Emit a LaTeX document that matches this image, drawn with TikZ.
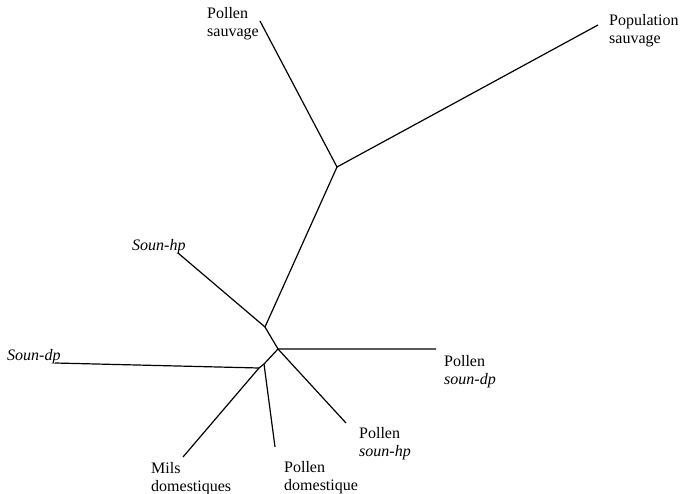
\documentclass[tikz,border=0pt]{standalone}
\usepackage{fontspec}
\setmainfont{Liberation Serif}
\begin{document}
\begin{tikzpicture}[x=1pt,y=-1pt,
  branch/.style={draw=black,line width=1.2pt,line join=round},
  lbl/.style={anchor=north west,inner sep=0pt,align=left,font=\fontsize{16}{18.5}\selectfont}]
\useasboundingbox[fill=white] (0,0) rectangle (681,494);
% tree junctions
\coordinate (P) at (337,167);
\coordinate (A) at (265,327);
\coordinate (B) at (278,349);
\coordinate (C) at (264,364);
\coordinate (D) at (259,368);
% branch ends
\coordinate (ePS) at (260,21);
\coordinate (ePop) at (598,25);
\coordinate (eSH) at (178,253);
\coordinate (eSD) at (55,363);
\coordinate (ePSD) at (436,349);
\coordinate (ePSH) at (346,423);
\coordinate (ePD) at (275,447);
\coordinate (eM) at (183,457);
% labels
\node[lbl] (lPS) at (207,7) {Pollen\\sauvage};
\node[lbl] (lPop) at (609,14) {Population\\sauvage};
\node[lbl] (lSH) at (132,239) {\itshape Soun-hp};
\node[lbl] (lSD) at (7,349) {\itshape Soun-dp};
\node[lbl] (lPSD) at (444,355) {Pollen\\\itshape soun-dp};
\node[lbl] (lPSH) at (359,427) {Pollen\\\itshape soun-hp};
\node[lbl] (lPD) at (284,461) {Pollen\\domestique};
\node[lbl] (lM) at (151,462) {Mils\\domestiques};
% branches
\draw[branch] (ePS) -- (P) -- (ePop);
\draw[branch] (P) -- (A) -- (eSH);
\draw[branch] (A) -- (B) -- (ePSD);
\draw[branch] (B) -- (ePSH);
\draw[branch] (B) -- (C) -- (ePD);
\draw[branch] (C) -- (D) -- (eSD);
\draw[branch] (D) -- (eM);
\end{tikzpicture}
\end{document}
